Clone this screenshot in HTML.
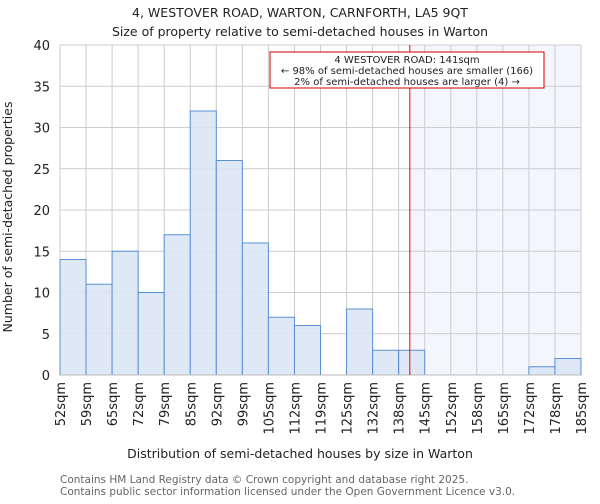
<!DOCTYPE html>
<html><head><meta charset="utf-8"><style>
body{margin:0;background:#fff;font-family:"DejaVu Sans","Liberation Sans",sans-serif}
svg text{font-family:"DejaVu Sans","Liberation Sans",sans-serif;fill:#222}
</style></head><body>
<svg id="c" width="600" height="500" xmlns="http://www.w3.org/2000/svg">
<text x="300" y="17" text-anchor="middle" font-size="12.5">4, WESTOVER ROAD, WARTON, CARNFORTH, LA5 9QT</text>
<text x="300" y="36" text-anchor="middle" font-size="12.5">Size of property relative to semi-detached houses in Warton</text>
<g id="g"></g>
<text x="300" y="458" text-anchor="middle" font-size="12.5">Distribution of semi-detached houses by size in Warton</text>
<text transform="translate(12,217) rotate(-90)" text-anchor="middle" font-size="12.5">Number of semi-detached properties</text>
<text x="60" y="483" font-size="10.5" style="fill:#666">Contains HM Land Registry data © Crown copyright and database right 2025.</text>
<text x="60" y="495" font-size="10.5" style="fill:#666">Contains public sector information licensed under the Open Government Licence v3.0.</text>
</svg>
<script>
const categories=["52sqm","59sqm","65sqm","72sqm","79sqm","85sqm","92sqm","99sqm","105sqm","112sqm","119sqm","125sqm","132sqm","138sqm","145sqm","152sqm","158sqm","165sqm","172sqm","178sqm","185sqm"];
const edges=[52,59,65,72,79,85,92,99,105,112,119,125,132,138,145,152,158,165,172,178,185];
const counts=[14,11,15,10,17,32,26,16,7,6,0,8,3,3,0,0,0,0,1,2];
const yTicks=[0,5,10,15,20,25,30,35,40];
const propertySize=141;
const NS="http://www.w3.org/2000/svg";
const L=60,R=581,T=45,B=375,n=counts.length;
const xi=i=>L+(R-L)*i/n;
const y=v=>B-(B-T)*v/40;
function xv(v){for(let i=0;i<edges.length-1;i++){if(v<=edges[i+1])return xi(i)+(v-edges[i])/(edges[i+1]-edges[i])*(xi(i+1)-xi(i));}return R;}
const g=document.getElementById('g');
function mk(t,a){const e=document.createElementNS(NS,t);for(const k in a)e.setAttribute(k,a[k]);g.appendChild(e);return e;}
const px=xv(propertySize);
let e=mk('rect',{x:px,y:T,width:R-px,height:B-T,fill:'#f3f6fc'});


for(let i=0;i<=n;i++){e=mk('line',{x1:xi(i),x2:xi(i),y1:T,y2:B,stroke:'#ccc'});

}
yTicks.forEach(t=>{e=mk('line',{x1:L,x2:R,y1:y(t),y2:y(t),stroke:'#ccc'});


e=mk('text',{x:L-10,y:y(t)+5,'text-anchor':'end','font-size':13});e.textContent=t;

});
counts.forEach((c,i)=>{if(c<=0)return;e=mk('rect',{x:xi(i),y:y(c),width:xi(i+1)-xi(i),height:B-y(c),fill:'#dce6f4',stroke:'#5b8fd6','stroke-width':1,'fill-opacity':0.9});

});
e=mk('line',{x1:L,x2:R,y1:B,y2:B,stroke:'#bbb'});


categories.forEach((c,i)=>{const x=xi(i);e=mk('text',{transform:`translate(${x+5},382) rotate(-90)`,'text-anchor':'end','font-size':13});e.textContent=c;

});
e=mk('line',{x1:px,x2:px,y1:T,y2:B,stroke:'#e00','stroke-width':1});


e=mk('rect',{x:270,y:52,width:274,height:36,fill:'#fff',stroke:'#c00','stroke-width':1});


["4 WESTOVER ROAD: 141sqm","← 98% of semi-detached houses are smaller (166)","2% of semi-detached houses are larger (4) →"].forEach((s,k)=>{e=mk('text',{x:407,y:63+k*11,'text-anchor':'middle','font-size':10,textLength:k==0?null:null});e.textContent=s;

});
</script>
</body></html>
